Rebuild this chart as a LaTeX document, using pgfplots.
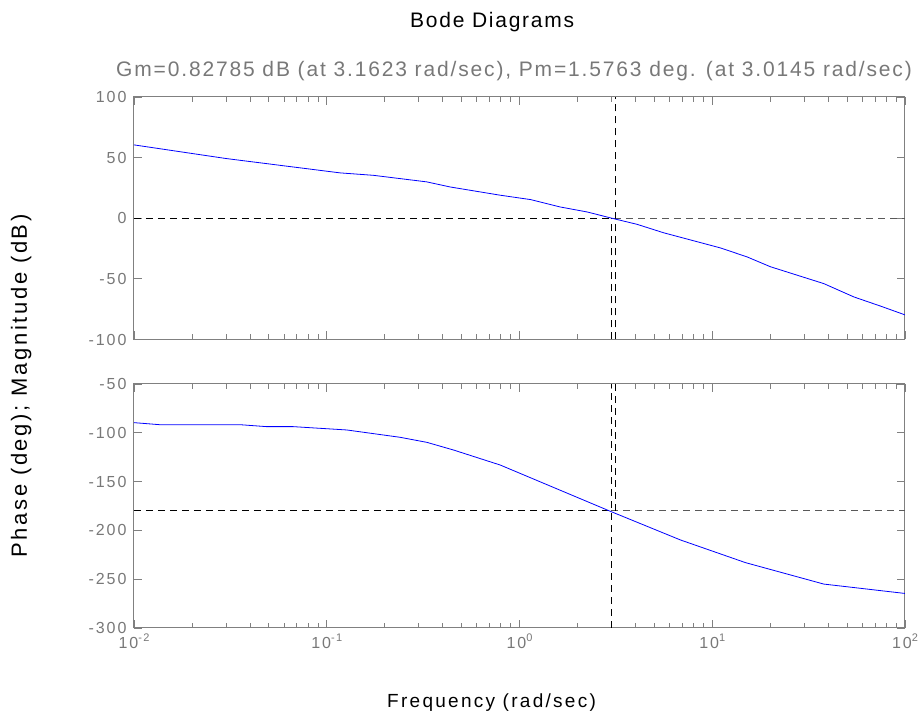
\documentclass[border=0pt]{standalone}
\usepackage{fontspec}
\setmainfont{Liberation Sans}
\usepackage{pgfplots}
\pgfplotsset{compat=1.18}

\definecolor{axgray}{gray}{0.5}
\definecolor{txtgray}{gray}{0.47}
\definecolor{dgray}{gray}{0.35}

\newcommand\tickfont{\fontsize{16}{18}\selectfont\addfontfeature{LetterSpace=12}}
\newcommand\tensup[1]{10\raisebox{0.45em}{\fontsize{11}{11}\selectfont #1}}

\pgfplotsset{
  bode/.style={
    scale only axis,
    width=771pt,
    anchor=south west,
    xmin=0.01, xmax=100,
    xtick={0.01,0.1,1,10,100},
    minor xtick={0.02,0.03,0.04,0.05,0.06,0.07,0.08,0.09,
                 0.2,0.3,0.4,0.5,0.6,0.7,0.8,0.9,
                 2,3,4,5,6,7,8,9,20,30,40,50,60,70,80,90},
    axis line style={axgray, line width=1pt},
    every tick/.style={axgray, line width=0.8pt},
    major tick length=8pt,
    minor tick length=5pt,
    tick align=inside,
    tick label style={font=\tickfont, text=txtgray},
    yticklabel style={xshift=-4pt},
    xticklabel style={yshift=-2pt},
  },
  magcurve/.style={blue, line width=0.8pt},
  guide/.style={black, line width=1pt, dash pattern=on 7pt off 5pt},
  guidegray/.style={dgray, line width=1pt, dash pattern=on 7pt off 5pt},
}

\begin{document}
\begin{tikzpicture}
\path[use as bounding box] (0,0) rectangle (919pt,717pt);

% magnitude
\begin{semilogxaxis}[bode,
    at={(134pt,377.5pt)},
    height=242.5pt,
    ymin=-100, ymax=100,
    ytick={-100,-50,0,50,100},
    yticklabels={-100,-50,0,50,100},
    xticklabels={},
]
\addplot[guide] coordinates {(0.01,0) (3.1,0)};
\addplot[guidegray] coordinates {(3.1,0) (100,0)};
\addplot[guide] coordinates {(3.1623,-100) (3.1623,100)};
\addplot[guide] coordinates {(3.0145,-100) (3.0145,0)};
\addplot[magcurve] coordinates {
  (0.01,60.5) (0.0302,49.2) (0.1175,37.4) (0.1746,35.4) (0.330,30.0)
  (0.4365,25.8) (0.794,19.0) (1.14,15.4) (1.626,9.3) (2.239,5.2)
  (3.1623,-0.8) (4.07,-5.0) (5.6,-12.0) (11.04,-24.5) (15.17,-31.9)
  (20.04,-40.0) (37.9,-53.9) (54.3,-64.9) (74.8,-72.5) (100,-79.7)
};
\end{semilogxaxis}

% phase
\begin{semilogxaxis}[bode,
    at={(134pt,89pt)},
    height=244pt,
    ymin=-300, ymax=-50,
    ytick={-300,-250,-200,-150,-100,-50},
    yticklabels={-300,-250,-200,-150,-100,-50},
    xticklabels={\tensup{-2},\tensup{-1},\tensup{0},\tensup{1},\tensup{2}},
]
\addplot[guide] coordinates {(0.01,-180) (3.0,-180)};
\addplot[guidegray] coordinates {(3.0,-180) (100,-180)};
\addplot[guide] coordinates {(3.0145,-300) (3.0145,-50)};
\addplot[guide] coordinates {(3.1623,-180) (3.1623,-50)};
\addplot[magcurve] coordinates {
  (0.01,-89.6) (0.0136,-91.7) (0.0355,-91.7) (0.0488,-93.7) (0.067,-93.7)
  (0.127,-97.1) (0.24,-104.6) (0.331,-109.8) (0.454,-117.6) (0.794,-133.0)
  (2.99,-180.8) (6.84,-209.8) (14.86,-233.0) (37.9,-255.0) (100,-264.6)
};
\end{semilogxaxis}

\node[anchor=base west, inner sep=0pt, font=\fontsize{21}{24}\selectfont\addfontfeature{LetterSpace=8.3}]
  at (410pt,689pt) {Bode Diagrams};
\node[anchor=base west, inner sep=0pt, text=txtgray, font=\fontsize{21}{24}\selectfont\addfontfeature{LetterSpace=8.8}]
  at (116pt,640pt) {Gm=0.82785 dB (at 3.1623 rad/sec), Pm=1.5763 deg. (at 3.0145 rad/sec)};
\node[anchor=base west, inner sep=0pt, font=\fontsize{19}{24}\selectfont\addfontfeature{LetterSpace=12}]
  at (387pt,9pt) {Frequency (rad/sec)};
\node[anchor=base, rotate=90, inner sep=0pt, font=\fontsize{22}{24}\selectfont\addfontfeature{LetterSpace=12}]
  at (27pt,331pt) {Phase (deg); Magnitude (dB)};
\end{tikzpicture}
\end{document}
